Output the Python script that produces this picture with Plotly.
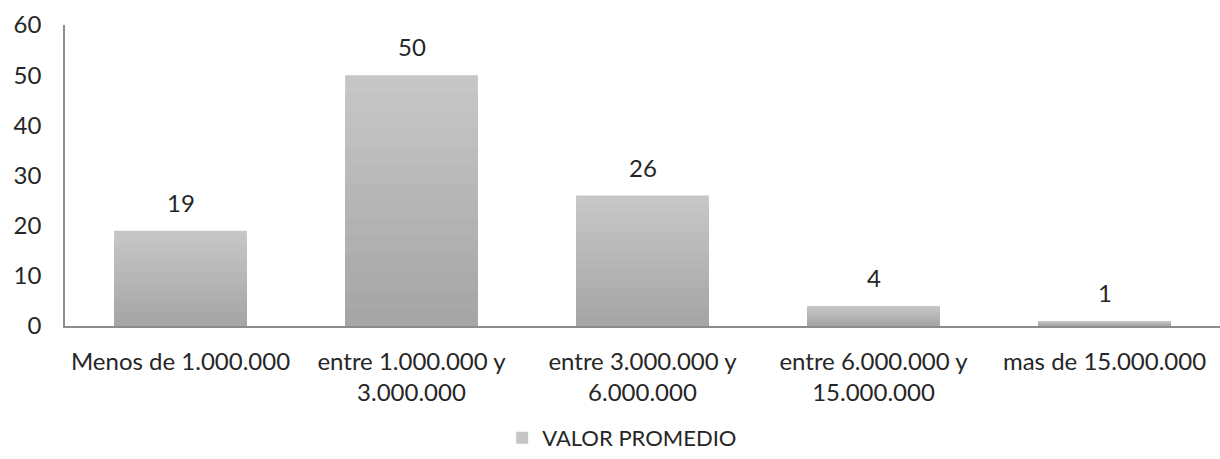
import plotly.graph_objects as go

categories = [
    "Menos de 1.000.000",
    "entre 1.000.000 y<br>3.000.000",
    "entre 3.000.000 y<br>6.000.000",
    "entre 6.000.000 y<br>15.000.000",
    "mas de 15.000.000",
]
values = [19, 50, 26, 4, 1]
series_name = "VALOR PROMEDIO"
y_ticks = [0, 10, 20, 30, 40, 50, 60]

FONT = "Lato, 'Open Sans', sans-serif"
TEXT = "#262626"
FS = 24

fig = go.Figure()

# Vertical shading: stacked overlays of shrinking height, darker toward the base
steps = 14
top_rgb, bottom_rgb = (198, 198, 198), (166, 166, 166)
for k in range(steps):
    frac = 1 - k / steps
    t = k / (steps - 1)
    c = tuple(round(top_rgb[i] + (bottom_rgb[i] - top_rgb[i]) * t) for i in range(3))
    fig.add_trace(go.Bar(
        x=categories,
        y=[v * frac for v in values],
        width=0.575,
        marker=dict(color="rgb(%d,%d,%d)" % c, line=dict(width=0)),
        name=series_name,
        showlegend=(k == 0),
        hoverinfo="skip" if k else None,
    ))

# Value labels above each bar
for cat, v in zip(categories, values):
    fig.add_annotation(
        x=cat, y=v, text=str(v), showarrow=False,
        yanchor="bottom", yshift=12,
        font=dict(family=FONT, size=FS, color=TEXT),
    )

fig.update_layout(
    width=1220,
    height=459,
    barmode="overlay",
    paper_bgcolor="white",
    plot_bgcolor="white",
    margin=dict(l=65, r=0, t=25, b=133, autoexpand=False),
    font=dict(family=FONT, size=FS, color=TEXT),
    legend=dict(
        orientation="h",
        xref="container", x=0.51, xanchor="center",
        yref="container", y=-0.016, yanchor="bottom",
        font=dict(family=FONT, size=22, color=TEXT),
        itemsizing="constant",
    ),
    xaxis=dict(
        showline=True, linecolor="#8c8c8c", linewidth=1.5,
        showgrid=False, ticks="", tickfont=dict(size=FS),
        ticklabelstandoff=13, automargin=False,
    ),
    yaxis=dict(
        range=[0, 60], tickvals=y_ticks,
        showline=True, linecolor="#8c8c8c", linewidth=1.5,
        showgrid=False, zeroline=False, ticks="",
        ticklabelstandoff=17, tickfont=dict(size=FS), automargin=False,
    ),
)

fig.write_html("out.html")
